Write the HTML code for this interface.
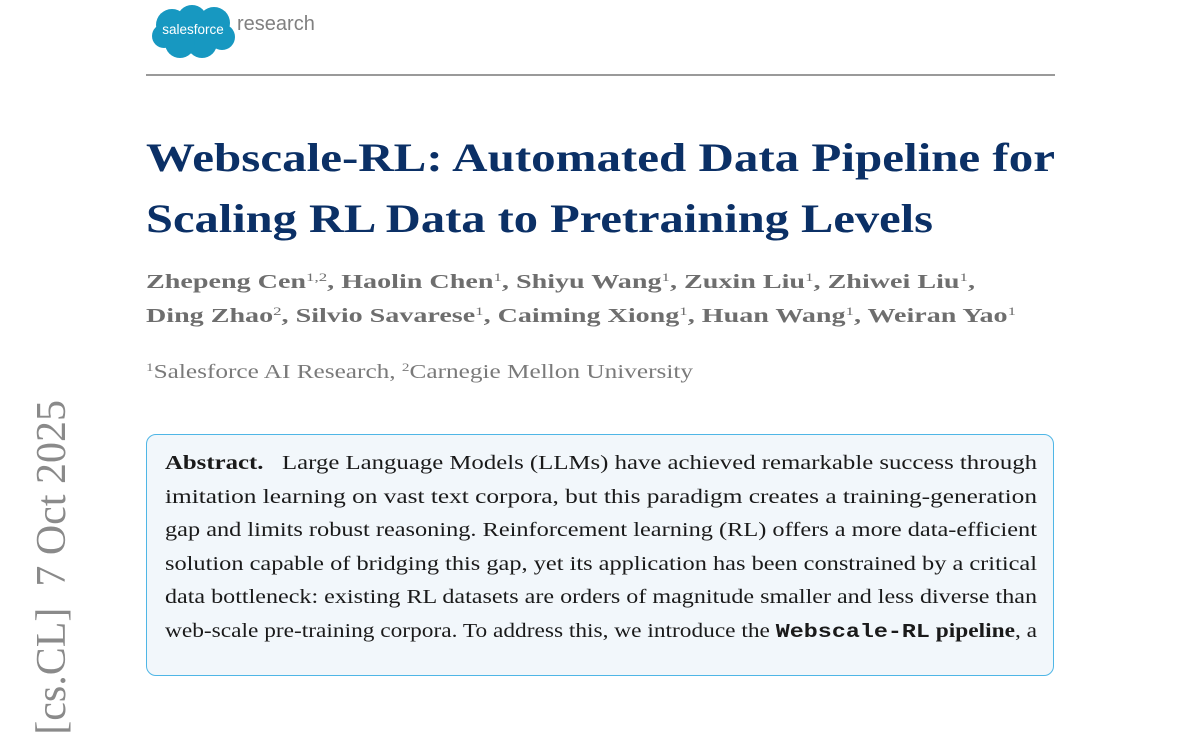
<!DOCTYPE html>
<html><head><meta charset="utf-8"><style>
body{margin:0;width:1200px;height:648px;overflow:hidden;background:#fff;position:relative;font-family:"Liberation Serif",serif}
.L{position:absolute;white-space:nowrap;}
.L>span{display:inline-block;transform-origin:0 0;white-space:nowrap}
.t{color:#0b3066;font-weight:bold;font-size:40px;}
.a{color:#6e6e6e;font-weight:bold;font-size:20px;}
.a sup,.af sup{font-size:12px;font-weight:normal;vertical-align:7px}
.ab{font-size:19.5px;color:#1a1a1a;left:165px;}
</style></head><body>
<svg style="position:absolute;left:150px;top:3px" width="88" height="58" viewBox="0 0 88 58">
<g fill="#1798c1">
<circle cx="22" cy="22" r="16"/><circle cx="42" cy="17" r="15"/><circle cx="64" cy="20" r="16"/>
<circle cx="72" cy="34" r="13"/><circle cx="52" cy="40" r="15"/><circle cx="30" cy="40" r="15"/><circle cx="14" cy="33" r="12"/>
</g>
<text x="43" y="31" text-anchor="middle" fill="#fff" font-family="Liberation Sans,sans-serif" font-size="13.5">salesforce</text>
</svg>
<div style="position:absolute;left:237px;top:13px;font-family:'Liberation Sans',sans-serif;font-size:20px;color:#808080">research</div>
<div style="position:absolute;left:146px;top:74px;width:909px;height:1.5px;background:#9a9a9a"></div>

<div class="L t" style="left:146px;top:134px;width:909px"><span>Webscale-RL: Automated Data Pipeline for</span></div>
<div class="L t" style="left:146px;top:195px;width:787px"><span>Scaling RL Data to Pretraining Levels</span></div>

<div class="L a" style="left:146px;top:270px;width:829px"><span>Zhepeng Cen<sup>1,2</sup>, Haolin Chen<sup>1</sup>, Shiyu Wang<sup>1</sup>, Zuxin Liu<sup>1</sup>, Zhiwei Liu<sup>1</sup>,</span></div>
<div class="L a" style="left:146px;top:304px;width:870px"><span>Ding Zhao<sup>2</sup>, Silvio Savarese<sup>1</sup>, Caiming Xiong<sup>1</sup>, Huan Wang<sup>1</sup>, Weiran Yao<sup>1</sup></span></div>
<div class="L af" style="left:146px;top:360px;width:547px;font-size:20px;color:#7a7a7a"><span><sup>1</sup>Salesforce AI Research, <sup>2</sup>Carnegie Mellon University</span></div>

<div style="position:absolute;left:146px;top:434px;width:906px;height:240px;border:1.5px solid #4fb6e6;border-radius:10px;background:#f2f7fb"></div>
<div class="L ab" style="top:453px;width:872px"><span><b>Abstract.</b>&nbsp;&nbsp; Large Language Models (LLMs) have achieved remarkable success through</span></div>
<div class="L ab" style="top:486.5px;width:872px"><span>imitation learning on vast text corpora, but this paradigm creates a training-generation</span></div>
<div class="L ab" style="top:520px;width:872px"><span>gap and limits robust reasoning. Reinforcement learning (RL) offers a more data-efficient</span></div>
<div class="L ab" style="top:553.5px;width:872px"><span>solution capable of bridging this gap, yet its application has been constrained by a critical</span></div>
<div class="L ab" style="top:587px;width:872px"><span>data bottleneck: existing RL datasets are orders of magnitude smaller and less diverse than</span></div>
<div class="L ab" style="top:620.5px;width:872px"><span>web-scale pre-training corpora. To address this, we introduce the <b style="font-family:'Liberation Mono',monospace">Webscale-RL</b> <b>pipeline</b>, a</span></div>

<div style="position:absolute;left:52px;top:400px;transform-origin:0 0;transform:rotate(-90deg) translate(-100%,-50%);white-space:nowrap;font-size:42px;color:#8a8a8a;line-height:1">[cs.CL]&nbsp; 7 Oct 2025</div>
<script>
document.querySelectorAll('.L').forEach(function(d){
  var s=d.firstElementChild;var W=parseFloat(d.style.width);var w=s.getBoundingClientRect().width;
  if(w>0)s.style.transform='scaleX('+(W/w)+')';
});
</script>
</body></html>
